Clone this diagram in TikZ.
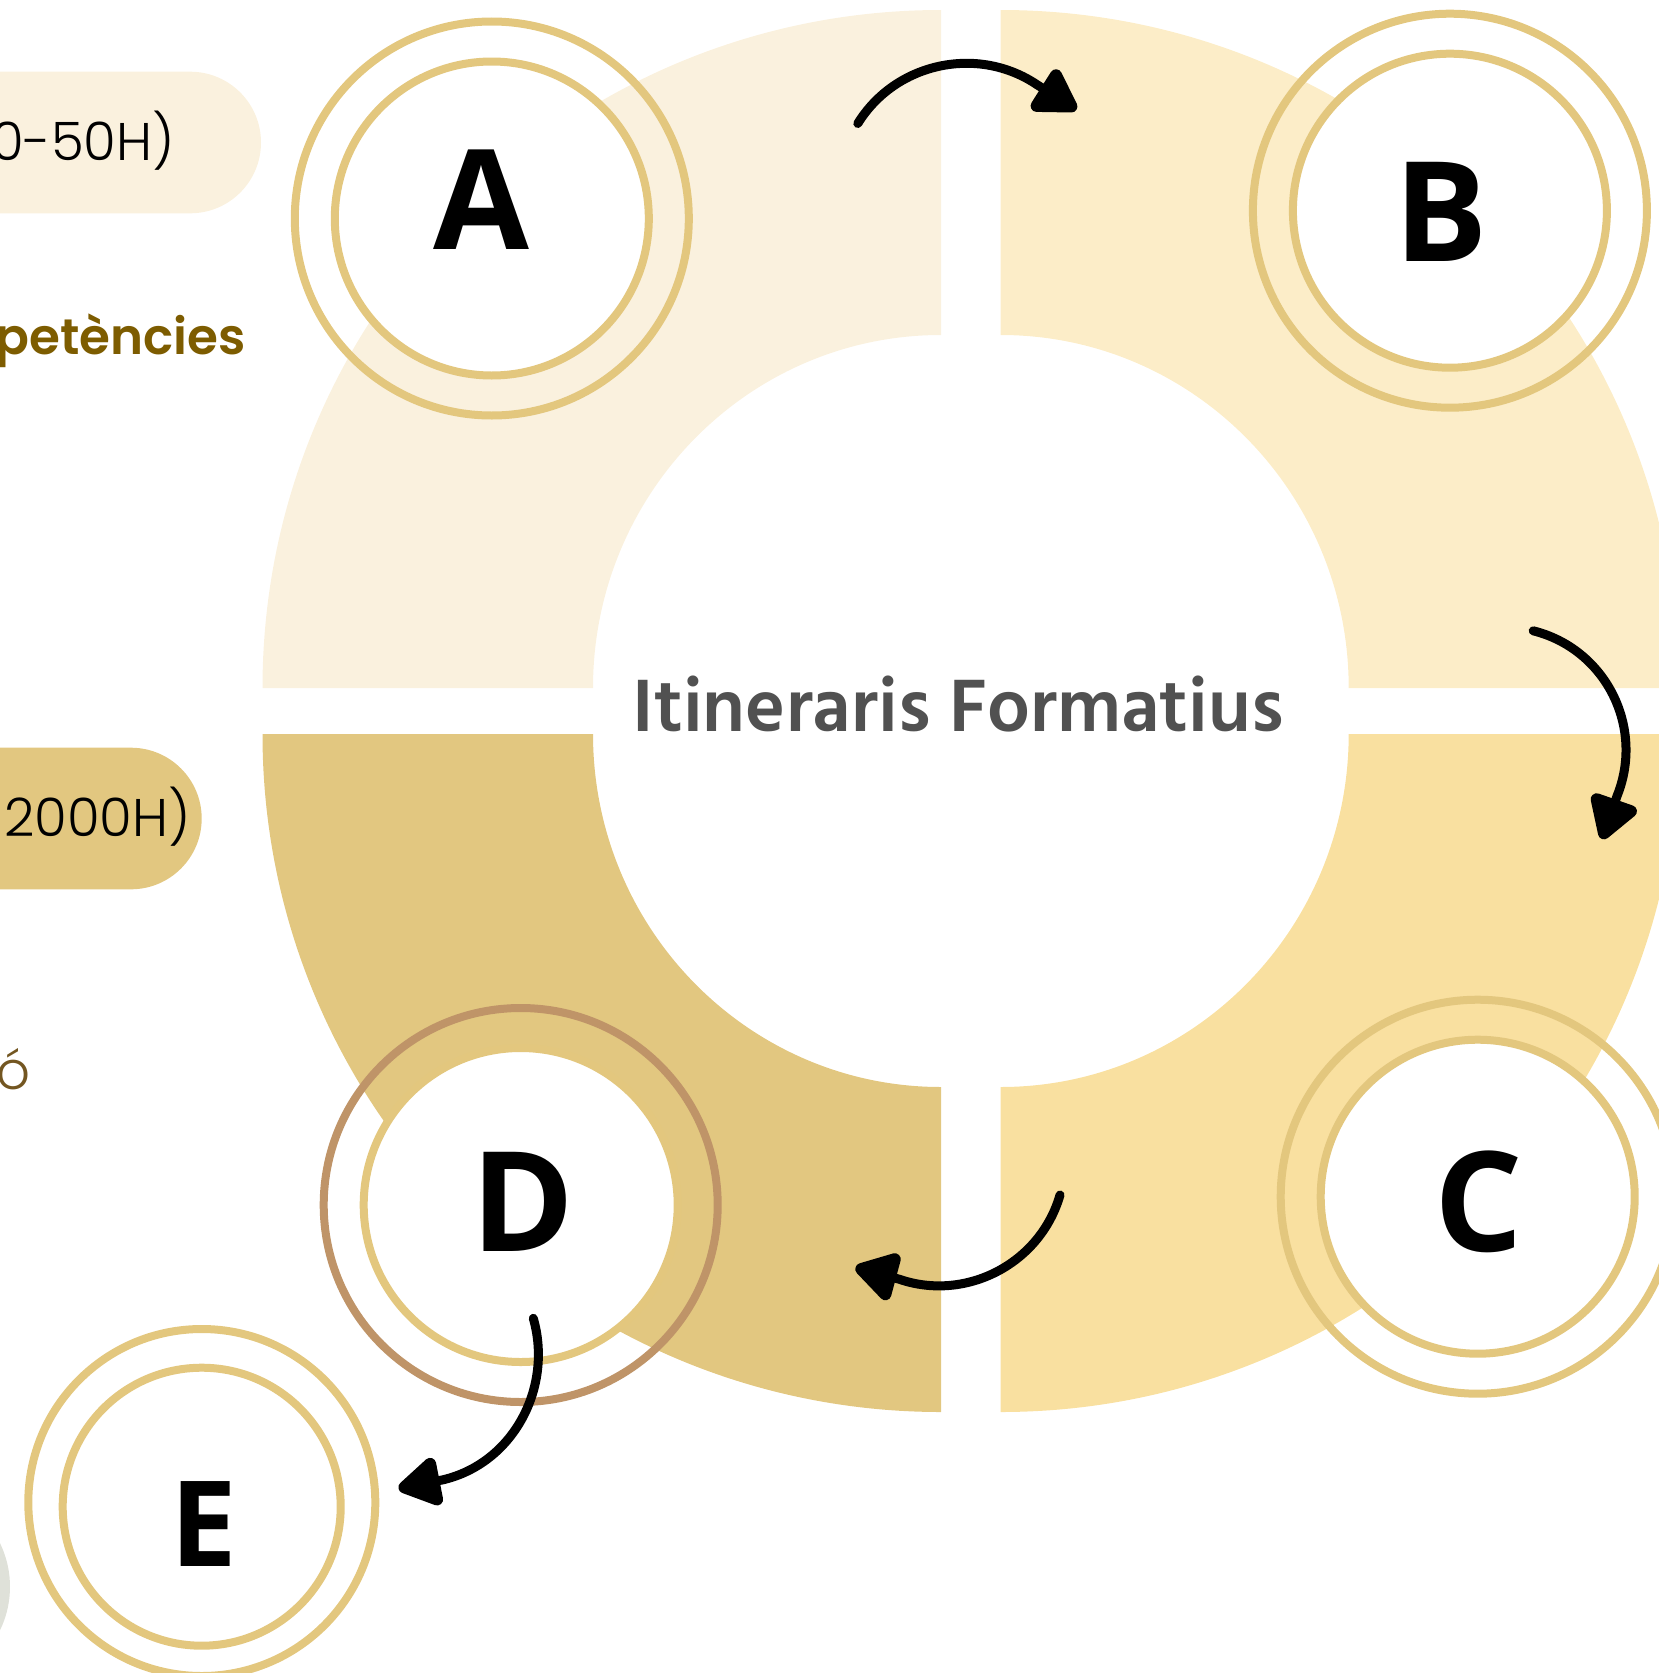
\documentclass[tikz,border=0pt]{standalone}
\usepackage{fontspec}
\setmainfont{Open Sans}
\newfontfamily\hind{Hind Madurai}
\newfontfamily\popl{Poppins Light}
\newfontfamily\pops{Poppins SemiBold}
\usetikzlibrary{arrows.meta}
\definecolor{qtl}{HTML}{FAF1DE}
\definecolor{qtr}{HTML}{FCEDC8}
\definecolor{qbr}{HTML}{F9E0A0}
\definecolor{qbl}{HTML}{E2C780}
\definecolor{gold}{HTML}{E3C77E}
\definecolor{bronze}{HTML}{BF9468}
\definecolor{titlegray}{HTML}{515151}
\definecolor{brownbold}{HTML}{7D5C00}
\definecolor{brownlight}{HTML}{735621}
\definecolor{greyc}{HTML}{DFE1D9}
\begin{document}
\begin{tikzpicture}[x=1pt,y=1pt,
  outring/.style={circle, draw=gold, line width=8pt, inner sep=0pt, minimum size=394pt},
  inring/.style={circle, draw=gold, fill=white, line width=8pt, inner sep=0pt, minimum size=314pt},
  letter/.style={inner sep=0pt, font=\fontsize{139}{139}\selectfont\bfseries},
  arr/.style={line width=9pt, line cap=round, -{Triangle[length=48pt,width=54pt,round,line width=13pt]}},
  lighttext/.style={inner sep=0pt, font=\popl\fontsize{53}{53}\selectfont},
]
\useasboundingbox (0,0) rectangle (1659,-1673);
\clip (0,0) rectangle (1659,-1673);
% quadrants of the ring
\fill[qtl] (262.5,-688) arc[start angle=180,end angle=90,x radius=678.5,y radius=678] -- (941,-335) arc[start angle=90,end angle=180,x radius=348,y radius=353] -- cycle;
\fill[qtr] (1000.7,-10) arc[start angle=90,end angle=0,x radius=678.5,y radius=678] -- (1348.7,-688) arc[start angle=0,end angle=90,x radius=348,y radius=353] -- cycle;
\fill[qbl] (262.5,-734) arc[start angle=180,end angle=270,x radius=678.5,y radius=678] -- (941,-1087) arc[start angle=270,end angle=180,x radius=348,y radius=353] -- cycle;
\fill[qbr] (1000.7,-1412) arc[start angle=270,end angle=360,x radius=678.5,y radius=678] -- (1348.7,-734) arc[start angle=360,end angle=270,x radius=348,y radius=353] -- cycle;
% left pills
\fill[qtl] (-10,-71.7) -- (190.2,-71.7) arc[start angle=90,end angle=-90,radius=70.8] -- (-10,-213.3) -- cycle;
\fill[qbl] (-10,-747.7) -- (130.9,-747.7) arc[start angle=90,end angle=-90,radius=70.8] -- (-10,-889.3) -- cycle;
\fill[greyc] (-89.6,-1586.7) circle[radius=99.6];
% texts
\node[lighttext, anchor=base east] (h1) at (175,-160.7) {0-50H)};
\node[lighttext, anchor=base east] (h2) at (191,-836) {2000H)};
\node[inner sep=0pt, font=\pops\fontsize{50}{50}\selectfont, text=brownbold, anchor=base east] (comp) at (246,-354.5) {petències};
\node[lighttext, text=brownlight, anchor=base east] (o1) at (31,-1089.3) {ó};
\node[inner sep=0pt, font=\hind\bfseries\fontsize{76}{76}\selectfont, text=titlegray, anchor=base] (title) at (958.3,-731.5) {Itineraris Formatius};
% circles
\node[outring] (Ao) at (491.8,-218.5) {};
\node[inring] (Ai) at (491.8,-218.5) {};
\node[letter] (A) at (481,-199.7) {A};
\node[outring] (Bo) at (1449.9,-210.7) {};
\node[inring] (Bi) at (1449.9,-210.7) {};
\node[letter] (B) at (1441.4,-212.3) {B};
\node[outring] (Co) at (1477.7,-1196.7) {};
\node[inring] (Ci) at (1477.7,-1196.7) {};
\node[letter] (C) at (1478.8,-1201.7) {C};
\node[outring, draw=bronze] (Do) at (520.7,-1205) {};
\node[inring] (Di) at (520.7,-1205) {};
\node[letter] (D) at (523,-1202) {D};
\node[outring, minimum size=347pt] (Eo) at (201.8,-1502.5) {};
\node[inring, minimum size=278pt] (Ei) at (201.7,-1506.7) {};
\node[letter, font=\fontsize{119}{119}\selectfont\bfseries] (E) at (203.7,-1524.2) {E};
% arrows: arc to the base of the head, then the straight head
\coordinate (s1) at (857.8,-123.5); \coordinate (b1) at (1037,-84.7); \coordinate (t1) at (1076.5,-109.7);
\draw[arr] (s1) to[out=58.4,in=146] (b1) -- (t1);
\coordinate (s2) at (1533.2,-630.8); \coordinate (b2) at (1617,-796.1); \coordinate (t2) at (1602,-839);
\draw[arr] (s2) to[out=-14,in=68,looseness=1.03] (b2) -- (t2);
\coordinate (s3) at (1060,-1195); \coordinate (b3) at (899.2,-1279.2); \coordinate (t3) at (855.5,-1267.5);
\draw[arr] (s3) to[out=-106,in=-19] (b3) -- (t3);
\coordinate (s4) at (533.3,-1318.3); \coordinate (b4) at (442.5,-1479.9); \coordinate (t4) at (398.5,-1488.5);
\draw[arr] (s4) to[out=-74,in=13] (b4) -- (t4);
\end{tikzpicture}
\end{document}
